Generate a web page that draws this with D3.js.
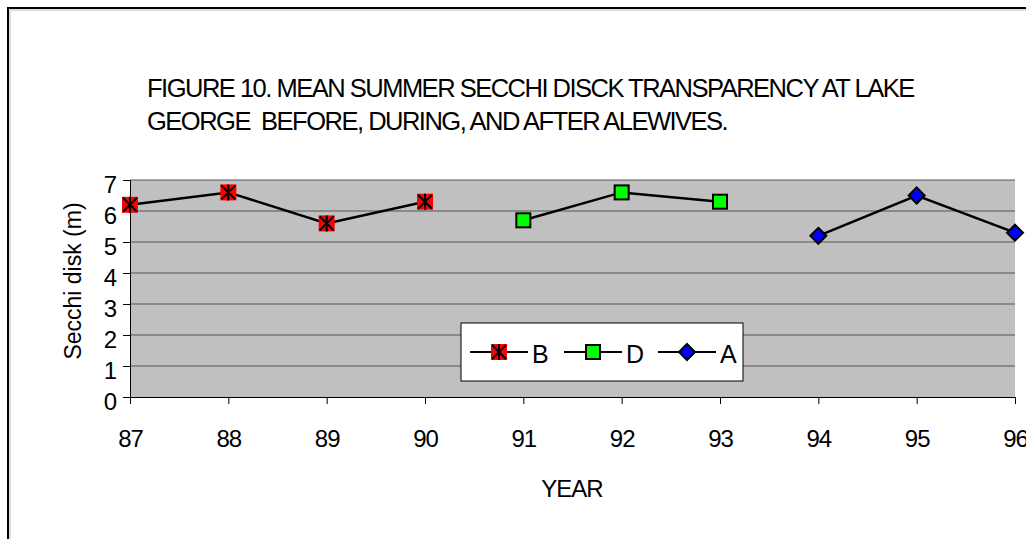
<!DOCTYPE html>
<html>
<head>
<meta charset="utf-8">
<script src="https://cdn.jsdelivr.net/npm/d3@7"></script>
<style>
  body { margin: 0; background: #fff; }
  text { font-family: "Liberation Sans", Arial, sans-serif; fill: #000; white-space: pre; }
</style>
</head>
<body>
<div id="chart"></div>
<script>
const years = [87, 88, 89, 90, 91, 92, 93, 94, 95, 96];
const yTicks = [0, 1, 2, 3, 4, 5, 6, 7];
const beforeYears = [87, 88, 89, 90];
const beforeValues = [6.2, 6.6, 5.6, 6.3];
const duringYears = [91, 92, 93];
const duringValues = [5.7, 6.6, 6.3];
const afterYears = [94, 95, 96];
const afterValues = [5.2, 6.5, 5.3];
const seriesNames = ['B', 'D', 'A'];

const width = 1026, height = 539;
const plot = { left: 130, right: 1015, top: 180, bottom: 397 };
const font = '"Liberation Sans", Arial, sans-serif';

const svg = d3.select('#chart').append('svg')
  .attr('width', width)
  .attr('height', height);

// outer frame (runs off the right and bottom edges)
svg.append('rect')
  .attr('x', 8).attr('y', 8)
  .attr('width', 1100).attr('height', 600)
  .attr('fill', '#fff')
  .attr('stroke', '#000')
  .attr('stroke-width', 2);
svg.append('path')
  .attr('d', 'M10,600V10H1100')
  .attr('fill', 'none')
  .attr('stroke', '#bbb')
  .attr('stroke-width', 1);

const x = d3.scaleLinear().domain([87, 96]).range([plot.left, plot.right]);
const y = d3.scaleLinear().domain([0, 7]).range([plot.bottom, plot.top]);

svg.append('rect')
  .attr('x', plot.left).attr('y', plot.top)
  .attr('width', plot.right - plot.left)
  .attr('height', plot.bottom - plot.top)
  .attr('fill', '#c0c0c0');

// gridlines
svg.append('g')
  .selectAll('line')
  .data(yTicks.filter(d => d > 0))
  .enter().append('line')
  .attr('x1', plot.left).attr('x2', plot.right)
  .attr('y1', d => y(d)).attr('y2', d => y(d))
  .attr('stroke', '#555')
  .attr('stroke-width', 1);

// y axis
const yAxis = svg.append('g')
  .attr('transform', `translate(${plot.left},0)`)
  .call(d3.axisLeft(y).tickValues(yTicks).tickSize(7).tickPadding(6).tickFormat(d3.format('d')));
yAxis.select('.domain').attr('stroke', '#000');
yAxis.selectAll('.tick line').attr('stroke', '#000');
yAxis.selectAll('text')
  .attr('font-size', 24)
  .attr('font-family', font)
  .attr('fill', '#000')
  .attr('dy', '0.5em');

// x axis
const xAxis = svg.append('g')
  .attr('transform', `translate(0,${plot.bottom})`)
  .call(d3.axisBottom(x).tickValues(years).tickSize(7).tickPadding(26).tickFormat(d3.format('d')));
xAxis.select('.domain').attr('stroke', '#000');
xAxis.selectAll('.tick line').attr('stroke', '#000');
xAxis.selectAll('text')
  .attr('font-size', 24)
  .attr('font-family', font)
  .attr('fill', '#000')
  .attr('letter-spacing', -1);

// title
const title = svg.append('text')
  .attr('font-size', 25.5)
  .attr('letter-spacing', -1.5);
title.append('tspan').attr('x', 147).attr('y', 97)
  .text('FIGURE 10. MEAN SUMMER SECCHI DISCK TRANSPARENCY AT LAKE');
title.append('tspan').attr('x', 147).attr('y', 130)
  .text('GEORGE  BEFORE, DURING, AND AFTER ALEWIVES.');

svg.append('text')
  .attr('transform', 'translate(81,281) rotate(-90)')
  .attr('text-anchor', 'middle')
  .attr('font-size', 23)
  .text('Secchi disk (m)');

svg.append('text')
  .attr('x', 572).attr('y', 497)
  .attr('text-anchor', 'middle')
  .attr('font-size', 24)
  .attr('letter-spacing', -1)
  .text('YEAR');

const line = d3.line().x(d => x(d[0])).y(d => y(d[1]));
const pairs = (xs, vs) => xs.map((d, i) => [d, vs[i]]);
const series = [
  pairs(beforeYears, beforeValues),
  pairs(duringYears, duringValues),
  pairs(afterYears, afterValues)
];

const drawMarker = function(g, kind, cx, cy, r) {
  if (kind === 0) {
    g.append('rect')
      .attr('x', cx - r).attr('y', cy - r)
      .attr('width', 2 * r).attr('height', 2 * r)
      .attr('fill', '#ff0000');
    g.append('path')
      .attr('d', `M${cx - r + 1},${cy - r + 1}L${cx + r - 1},${cy + r - 1}M${cx + r - 1},${cy - r + 1}L${cx - r + 1},${cy + r - 1}M${cx},${cy - r}V${cy + r}`)
      .attr('stroke', '#000')
      .attr('stroke-width', 2);
  } else if (kind === 1) {
    g.append('rect')
      .attr('x', cx - r + 1).attr('y', cy - r + 1)
      .attr('width', 2 * r - 2).attr('height', 2 * r - 2)
      .attr('fill', '#00ff00')
      .attr('stroke', '#000')
      .attr('stroke-width', 2);
  } else {
    g.append('path')
      .attr('d', `M${cx},${cy - r}L${cx + r},${cy}L${cx},${cy + r}L${cx - r},${cy}Z`)
      .attr('fill', '#0000ff')
      .attr('stroke', '#000')
      .attr('stroke-width', 2);
  }
};

series.forEach((pts, i) => {
  svg.append('path')
    .datum(pts)
    .attr('d', line)
    .attr('fill', 'none')
    .attr('stroke', '#000')
    .attr('stroke-width', 2.5);
  const g = svg.append('g');
  pts.forEach(p => drawMarker(g, i, x(p[0]), y(p[1]), 8));
});

// legend
const legend = svg.append('g');
legend.append('rect')
  .attr('x', 461).attr('y', 323)
  .attr('width', 282).attr('height', 58)
  .attr('fill', '#fff')
  .attr('stroke', '#000')
  .attr('stroke-width', 1);
const legendX = [470, 564, 658];
seriesNames.forEach((name, i) => {
  const lx = legendX[i], ly = 352;
  legend.append('line')
    .attr('x1', lx).attr('x2', lx + 58)
    .attr('y1', ly).attr('y2', ly)
    .attr('stroke', '#000')
    .attr('stroke-width', 2);
  drawMarker(legend.append('g'), i, lx + 29, ly, 8);
  legend.append('text')
    .attr('x', lx + 62).attr('y', ly + 11)
    .attr('font-size', 25)
    .text(name);
});
</script>
</body>
</html>
